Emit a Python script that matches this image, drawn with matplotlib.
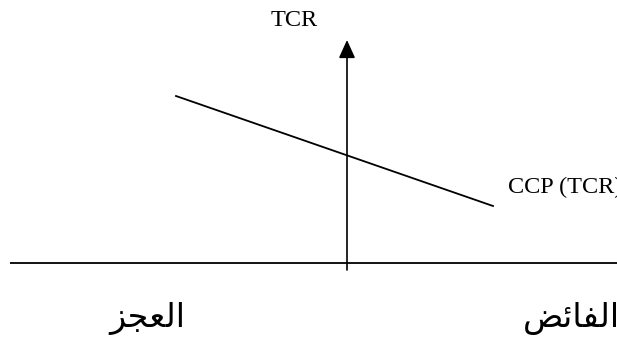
import matplotlib
matplotlib.use("Agg")
import matplotlib.pyplot as plt

# schematic values, origin where the two axes cross (units ~ pixels)
ccp_x = [-171, 146]
ccp_y = [167, 57]

h_axis_x = [-337, 270]
v_axis_y = [-7, 223]

# Arabic labels (العجز = deficit, الفائض = surplus) pre-shaped for matplotlib,
# which has no bidi/shaping: presentation forms in visual order
deficit_label = "\uFEB0\uFEA0\uFECC\uFEDF\uFE8D"
surplus_label = "\uFEBE\uFE8B\uFE8E\uFED4\uFEDF\uFE8D"

serif = ["Liberation Serif", "DejaVu Serif"]


def main():
    fig = plt.figure(figsize=(6.17, 3.45), dpi=100)
    ax = fig.add_axes([0, 0, 1, 1])
    ax.set_xlim(-347, 270)
    ax.set_ylim(-82, 263)
    ax.axis("off")

    # horizontal axis
    ax.plot(h_axis_x, [0, 0], color="black", lw=1.3, solid_capstyle="butt")

    # vertical axis with arrow head
    ax.annotate("", xy=(0, v_axis_y[1]), xytext=(0, v_axis_y[0]),
                arrowprops=dict(arrowstyle="-|>,head_length=11,head_width=5",
                                mutation_scale=1, color="black", lw=1.2,
                                shrinkA=0, shrinkB=0))

    # CCP curve
    ax.plot(ccp_x, ccp_y, color="black", lw=1.3)

    ax.text(-53, 243, "TCR", family=serif, fontsize=17.5,
            ha="center", va="center")
    ax.text(161, 76, "CCP (TCR)", family=serif, fontsize=17.5,
            ha="left", va="center")

    ax.text(-200, -64, deficit_label, family="DejaVu Sans", fontsize=24,
            ha="center", va="baseline")
    ax.text(176, -64, surplus_label, family="DejaVu Sans", fontsize=24,
            ha="left", va="baseline")

    fig.savefig("out.png", dpi=100)


if __name__ == "__main__":
    main()
